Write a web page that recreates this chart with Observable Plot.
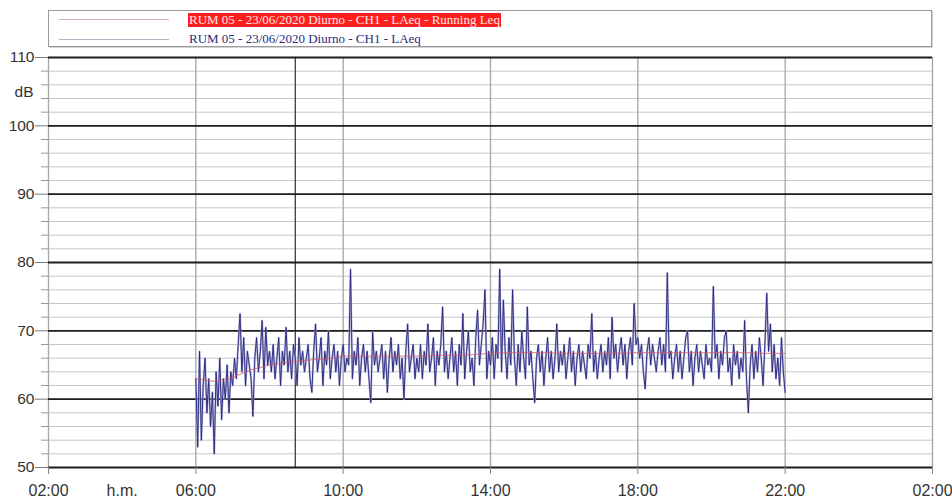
<!DOCTYPE html>
<html><head><meta charset="utf-8">
<script src="https://cdn.jsdelivr.net/npm/d3@7"></script>
<script src="https://cdn.jsdelivr.net/npm/@observablehq/plot@0.6"></script>
<style>
body{margin:0;background:#fff;}
#wrap{position:relative;width:952px;height:504px;overflow:hidden;background:#fff;}
#legend{position:absolute;left:48px;top:10px;width:882px;height:35px;border:1px solid #9a9a9a;box-shadow:1px 1px 0 #d4d4d4;background:#fff;font-family:"Liberation Serif","Times New Roman",serif;font-size:13px;}
.swatch{position:absolute;left:10px;width:110px;height:0;border-top:1px solid;}
.ltxt{position:absolute;left:139px;white-space:nowrap;line-height:14px;height:14px;padding:0 1px;}
#chart{position:absolute;left:0;top:48px;}
</style></head>
<body>
<div id="wrap">
  <div id="legend">
    <div class="swatch" style="top:8px;border-color:#e2aeb3;"></div>
    <div class="ltxt" style="top:2px;background:#ff1f1f;color:#ffe6e6;">RUM 05 - 23/06/2020 Diurno - CH1 - LAeq - Running Leq</div>
    <div class="swatch" style="top:28px;border-color:#b4b4c6;"></div>
    <div class="ltxt" style="top:21px;color:#2b2b7a;">RUM 05 - 23/06/2020 Diurno - CH1 - LAeq</div>
  </div>
  <div id="chart"></div>
</div>
<script>
// ---- data ----
const startHour = 6;          // first sample at 06:00
const stepMin = 3;            // LAeq sample spacing (minutes)
const laeq = [
  63, 53, 67, 54, 62, 66, 58, 63, 56, 61, 52, 64, 59, 66, 57, 63, 60, 65, 58, 64,
  62, 66, 63, 68, 72.5, 64, 69, 62, 67, 65, 63, 57.5, 66, 69, 64, 67, 71.5, 63, 70.5, 65,
  67, 64, 68, 63, 66, 69, 62, 67, 65, 70.5, 64, 67, 63, 68, 66, 62, 69, 65, 67, 64,
  66, 68, 63, 61, 67, 71, 64, 66, 69, 62, 67, 65, 70, 63, 66, 68, 64, 67, 62, 66,
  68, 64, 66, 65, 79, 63, 67, 65, 69, 62, 66, 68, 64, 67, 63, 59.5, 69.8, 65, 67, 64,
  66, 68, 63, 67, 61, 66, 69, 64, 67, 65, 68, 63, 66, 60, 67, 71, 64, 66, 68, 63,
  66, 64, 68, 63, 67, 65, 71, 64, 66, 69, 62, 67, 65, 68, 73.5, 64, 67, 63, 66, 69,
  64, 67, 62, 68, 65, 72.5, 63, 67, 70, 64, 66, 62, 69, 73, 65, 68, 71, 76, 63, 67,
  65, 69, 63, 68, 66, 79, 64, 74.5, 67, 63, 69, 65, 76, 66, 62, 68, 64, 70, 66, 63,
  73.5, 65, 67, 63, 59.5, 66, 68, 64, 67, 62, 66, 69, 64, 67, 63, 66, 71, 64, 67, 65,
  68, 63, 66, 69, 64, 67, 62, 66, 68, 64, 67, 65, 63, 68, 66, 72.5, 64, 67, 63, 66,
  68, 64, 67, 65, 69, 63, 72, 66, 68, 64, 67, 69, 65, 68, 63, 67, 69, 65, 74, 68,
  69, 66, 68, 64, 61.5, 67, 69, 65, 68, 66, 64, 67, 69, 65, 68, 64, 78.5, 66, 67, 63,
  66, 68, 64, 67, 63, 66, 69, 70, 64, 67, 62, 66, 68, 64, 67, 65, 63, 68, 65, 66,
  64, 76.5, 66, 68, 63, 67, 65, 69, 70, 64, 66, 62, 68, 65, 67, 63, 66, 64, 71.5, 63,
  58, 65, 68, 63, 67, 64, 69, 66, 62, 68, 75.5, 67, 71, 64, 68, 63, 66, 62, 69, 64, 61
];
const runStepMin = 30;        // Running Leq read every 30 minutes
const runningLeq = [
  63, 62.6, 63.2, 64.3, 65.0, 65.4, 65.7, 65.9, 66.3, 66.3, 66.3, 66.3, 66.3, 66.4, 66.4, 66.5,
  66.7, 66.8, 66.8, 66.8, 66.7, 66.7, 66.7, 66.7, 66.8, 66.8, 66.8, 66.8, 66.8, 66.8, 66.8, 66.7, 66.7
];
const yMajor = [50, 60, 70, 80, 90, 100, 110];
const yMinor = [52, 54, 56, 58, 62, 64, 66, 68, 72, 74, 76, 78, 82, 84, 86, 88, 92, 94, 96, 98, 102, 104, 106, 108];
const yUnitAt = [105];
const yUnitLabel = "dB";
const xTickHours = [2, 6, 10, 14, 18, 22, 26];
const xLabelHours = [2, 4, 6, 10, 14, 18, 22, 26];
const xLabels = ["02:00", "h.m.", "06:00", "10:00", "14:00", "18:00", "22:00", "02:00"];
const xGridHours = [2, 6, 10, 14, 18, 22, 26];
const markerHours = [8.7];

// ---- build ----
const laeqData = laeq.map((v, i) => ({h: startHour + i * stepMin / 60, v}));
const runData = runningLeq.map((v, i) => ({h: startHour + i * runStepMin / 60, v}));
const xLabelMap = new Map(xLabelHours.map((h, i) => [h, xLabels[i]]));

const chart = Plot.plot({
  width: 952,
  height: 456,
  marginLeft: 48,
  marginRight: 20,
  marginTop: 9,
  marginBottom: 37,
  x: {domain: [2, 26], label: null},
  y: {domain: [50, 110], label: null},
  style: {fontFamily: "'Liberation Sans', Arial, sans-serif", fontSize: "15px", background: "#fff", overflow: "visible"},
  marks: [
    Plot.ruleY(yMinor, {stroke: "#c6c6c6", strokeWidth: 1}),
    Plot.ruleX(xGridHours, {stroke: "#a6a6a6", strokeWidth: 1.3}),
    Plot.ruleX(markerHours, {stroke: "#3a3a3a", strokeWidth: 1.3}),
    Plot.ruleY(yMajor, {stroke: "#1c1c1c", strokeWidth: 1.8}),
    Plot.line(laeqData, {x: "h", y: "v", stroke: "#a9a9d6", strokeWidth: 2, strokeOpacity: 0.85}),
    Plot.line(laeqData, {x: "h", y: "v", stroke: "#24247a", strokeWidth: 0.9}),
    Plot.line(runData, {x: "h", y: "v", stroke: "#d35a6a", strokeWidth: 1, strokeOpacity: 0.8}),
    Plot.axisY(yMajor, {anchor: "left", label: null, tickSize: 13, tickPadding: 1, stroke: "#777", fill: "#333", fontSize: 15.5}),
    Plot.axisY(yMinor, {anchor: "left", label: null, tickSize: 7, tickFormat: () => "", stroke: "#999"}),
    Plot.axisY(yUnitAt, {anchor: "left", label: null, tickSize: 0, tickPadding: 15, tickFormat: () => yUnitLabel, fill: "#333", fontSize: 15.5}),
    Plot.axisX(xTickHours, {anchor: "bottom", label: null, tickSize: 7, tickFormat: () => "", stroke: "#888"}),
    Plot.axisX(xLabelHours, {anchor: "bottom", label: null, tickSize: 0, tickPadding: 17, tickFormat: d => xLabelMap.get(d), fill: "#333", fontSize: 16})
  ]
});
document.getElementById("chart").appendChild(chart);
</script>
</body></html>
